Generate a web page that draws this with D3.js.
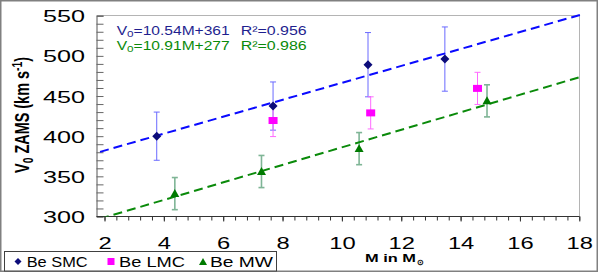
<!DOCTYPE html>
<html><head><meta charset="utf-8">
<script src="https://cdn.jsdelivr.net/npm/d3@7"></script>
<style>body{margin:0;background:#fff} svg{display:block} text{font-family:"Liberation Sans",Arial,Helvetica,sans-serif}</style>
</head><body><svg id="c" width="599" height="273"></svg>
<script>
// ---- data ----
const smcMass = [3.76, 7.68, 10.88, 13.47];
const smcV    = [400, 437.5, 489, 496];
const smcErr  = [30, 30, 40, 40];
const lmcMass = [7.68, 10.97, 14.57];
const lmcV    = [419.5, 429, 459.5];
const lmcErr  = [20, 20, 20];
const mwMass  = [4.37, 7.29, 10.58, 14.89];
const mwV     = [328.5, 356, 384.5, 444];
const mwErr   = [20, 20, 20, 20];
const fitSlope = [10.54, 10.91];
const fitIntercept = [361, 277];
const fitRange = [1.85, 18.12];
const xTickLabels = [2, 4, 6, 8, 10, 12, 14, 16, 18];
const yTickLabels = [300, 350, 400, 450, 500, 550];
const seriesNames = ["Be SMC", "Be LMC", "Be MW"];

const svg = d3.select("#c");
const x = d3.scaleLinear().domain([2, 18]).range([104.5, 579.3]);
const y = d3.scaleLinear().domain([300, 550]).range([216.5, 15.7]);
const FONT = '"Liberation Sans",Arial,sans-serif';

// outer border
svg.append("rect").attr("x", 0.75).attr("y", 0.75).attr("width", 596.5).attr("height", 270.5)
  .attr("fill", "#fff").attr("stroke", "#808080").attr("stroke-width", 1.5);

// plot area border (top/right)
svg.append("path").attr("d", `M96.5,15.5H579.5V216.5`).attr("fill", "none").attr("stroke", "#b4b4b4").attr("stroke-width", 1);

// y axis: line + inward ticks
const yMinor = svg.append("g").attr("transform", "translate(96.5,0)")
  .call(d3.axisRight(y).tickValues(d3.range(300, 551, 10)).tickSize(7).tickFormat(""));
yMinor.select(".domain").attr("stroke", "#555");
yMinor.selectAll(".tick line").attr("stroke", "#666");
// y labels
const yLab = svg.append("g").attr("transform", "translate(85,0)")
  .call(d3.axisLeft(y).tickValues(yTickLabels).tickSize(0).tickPadding(0).tickFormat(d3.format("d")));
yLab.select(".domain").remove();
yLab.selectAll("text").attr("font-family", FONT).attr("font-size", 17).attr("fill", "#000")
  .attr("dy", "0.36em").attr("textLength", 42).attr("lengthAdjust", "spacingAndGlyphs");

// x axis
svg.append("line").attr("x1", 96.5).attr("x2", 579.5).attr("y1", 216.5).attr("y2", 216.5).attr("stroke", "#333");
const xMinor = svg.append("g").attr("transform", "translate(0,216.5)")
  .call(d3.axisBottom(x).tickValues(d3.range(2, 18.01, 0.4)).tickSize(4).tickFormat(""));
xMinor.select(".domain").remove();
xMinor.selectAll(".tick line").attr("stroke", "#333");
const xLab = svg.append("g").attr("transform", "translate(0,216.5)")
  .call(d3.axisBottom(x).tickValues(xTickLabels).tickSize(5).tickFormat(d3.format("d")));
xLab.select(".domain").remove();
xLab.selectAll(".tick line").attr("stroke", "#333");
xLab.selectAll("text").attr("font-family", FONT).attr("font-size", 17).attr("fill", "#000")
  .attr("y", 32.8).attr("dy", 0)
  .attr("textLength", d => String(d).length * 13.2).attr("lengthAdjust", "spacingAndGlyphs");

// axis titles
const yt = svg.append("text").attr("transform", "translate(29,173) scale(1.4,1) rotate(-90)")
  .attr("font-family", FONT).attr("font-weight", "bold").attr("font-size", 14).attr("fill", "#000")
  .attr("textLength", 116).attr("lengthAdjust", "spacingAndGlyphs");
yt.append("tspan").text("V");
yt.append("tspan").attr("font-size", 10).attr("dy", 3).text("0");
yt.append("tspan").attr("dy", -3).text(" ZAMS (km s");
yt.append("tspan").attr("font-size", 10).attr("dy", -5).text("-1");
yt.append("tspan").attr("dy", 5).text(")");

svg.append("text").attr("x", 365).attr("y", 261.7).attr("font-family", FONT).attr("font-weight", "bold")
  .attr("font-size", 10).attr("textLength", 51).attr("lengthAdjust", "spacingAndGlyphs").text("M in M");
svg.append("text").attr("x", 417).attr("y", 264.5).attr("font-family", FONT).attr("font-weight", "bold")
  .attr("font-size", 8).attr("textLength", 7).attr("lengthAdjust", "spacingAndGlyphs").text("⊙");

// equations
function eq(yb, color, m, b, r2) {
  const t = svg.append("text").attr("x", 116.7).attr("y", yb).attr("font-family", FONT)
    .attr("font-size", 12).attr("fill", color).attr("textLength", 113).attr("lengthAdjust", "spacingAndGlyphs");
  t.append("tspan").text("V");
  t.append("tspan").attr("font-size", 9).attr("dy", 2).text("0");
  t.append("tspan").attr("dy", -2).text(`=${m}M+${b}`);
  svg.append("text").attr("x", 240.7).attr("y", yb).attr("font-family", FONT)
    .attr("font-size", 12).attr("fill", color).attr("textLength", 66).attr("lengthAdjust", "spacingAndGlyphs")
    .text(`R²=${r2}`);
}
eq(35, "#1f1f8f", fitSlope[0].toFixed(2), fitIntercept[0], "0.956");
eq(49.5, "#0a8a0a", fitSlope[1].toFixed(2), fitIntercept[1], "0.986");

// error bars
function errBars(ms, vs, es, color, w) {
  const g = svg.append("g").attr("stroke", color).attr("stroke-width", w);
  ms.forEach((m, i) => {
    const cx = x(m), y1 = y(vs[i] + es[i]), y2 = y(vs[i] - es[i]);
    g.append("line").attr("x1", cx).attr("x2", cx).attr("y1", y1).attr("y2", y2);
    g.append("line").attr("x1", cx - 3).attr("x2", cx + 3).attr("y1", y1).attr("y2", y1);
    g.append("line").attr("x1", cx - 3).attr("x2", cx + 3).attr("y1", y2).attr("y2", y2);
  });
}
errBars(smcMass, smcV, smcErr, "#6a6aff", 1);
errBars(lmcMass, lmcV, lmcErr, "#ff6aff", 1);
errBars(mwMass, mwV, mwErr, "#7fb596", 1.6);

// trendlines
svg.append("clipPath").attr("id", "clipB").append("rect")
  .attr("x", 0).attr("y", 0).attr("width", 599).attr("height", y(300));
const fitColors = ["#0a0aff", "#0a8a0a"];
fitSlope.forEach((a, i) => {
  const b = fitIntercept[i];
  svg.append("line").attr("clip-path", "url(#clipB)")
    .attr("x1", x(fitRange[0])).attr("y1", y(a * fitRange[0] + b))
    .attr("x2", x(fitRange[1])).attr("y2", y(a * fitRange[1] + b))
    .attr("stroke", fitColors[i]).attr("stroke-width", 2).attr("stroke-dasharray", "9,5");
});

// markers
const diamond = (cx, cy, s) => `M${cx},${cy - s}L${cx + s},${cy}L${cx},${cy + s}L${cx - s},${cy}Z`;
const tri = (cx, cy, s) => `M${cx},${cy - s}L${cx + s},${cy + s * 0.75}L${cx - s},${cy + s * 0.75}Z`;
smcMass.forEach((m, i) => svg.append("path").attr("d", diamond(x(m), y(smcV[i]), 4.5)).attr("fill", "#0c0c7a"));
lmcMass.forEach((m, i) => svg.append("rect").attr("x", x(m) - 4.5).attr("y", y(lmcV[i]) - 3.5)
  .attr("width", 9).attr("height", 7).attr("fill", "#ff00ff"));
mwMass.forEach((m, i) => svg.append("path").attr("d", tri(x(m), y(mwV[i]), 4.5)).attr("fill", "#007a00"));

// legend
svg.append("rect").attr("x", 4.5).attr("y", 251.5).attr("width", 272).attr("height", 19.5)
  .attr("fill", "#fff").attr("stroke", "#404040").attr("stroke-width", 1);
svg.append("path").attr("d", diamond(18, 261.5, 3.5)).attr("fill", "#0c0c7a");
svg.append("rect").attr("x", 107.5).attr("y", 258).attr("width", 7).attr("height", 7).attr("fill", "#ff00ff");
svg.append("path").attr("d", tri(203, 262, 4)).attr("fill", "#007a00");
const legX = [26.7, 119, 210], legW = [61, 66, 63];
seriesNames.forEach((n, i) => svg.append("text").attr("x", legX[i]).attr("y", 266.5)
  .attr("font-family", FONT).attr("font-size", 15).attr("fill", "#000")
  .attr("textLength", legW[i]).attr("lengthAdjust", "spacingAndGlyphs").text(n));
</script></body></html>
